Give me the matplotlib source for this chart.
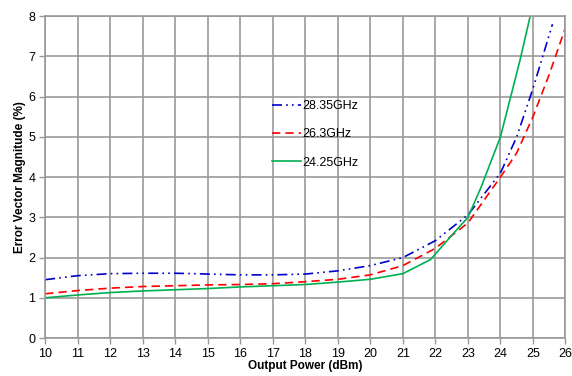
import matplotlib
matplotlib.use("Agg")
import matplotlib.pyplot as plt

plt.rcParams['font.family'] = ['Liberation Sans', 'DejaVu Sans']

# EVM vs output power, three carrier frequencies
x_2835 = [10, 11, 12, 13, 14, 15, 16, 17, 18, 19, 20, 21, 22, 23, 24, 24.5, 25, 25.3, 25.6]
evm_2835 = [1.45, 1.55, 1.6, 1.61, 1.61, 1.59, 1.57, 1.57, 1.59, 1.67, 1.8, 2.0, 2.42, 3.06, 4.1, 5.0, 6.2, 7.0, 7.8]

x_263 = [10, 11, 12, 13, 14, 15, 16, 17, 18, 19, 20, 21, 22, 23, 24, 24.5, 25, 25.5, 26]
evm_263 = [1.1, 1.18, 1.24, 1.28, 1.3, 1.32, 1.33, 1.35, 1.4, 1.46, 1.57, 1.8, 2.23, 2.86, 4.0, 4.6, 5.5, 6.55, 7.72]

x_2425 = [10, 11, 12, 13, 14, 15, 16, 17, 18, 19, 20, 21, 21.85, 22.5, 23, 23.4, 24, 24.6, 25]
evm_2425 = [1.0, 1.07, 1.13, 1.17, 1.2, 1.23, 1.27, 1.3, 1.33, 1.39, 1.46, 1.6, 1.95, 2.55, 3.0, 3.74, 5.0, 6.9, 8.3]

fig = plt.figure(figsize=(5.72, 3.76), dpi=100)
ax = fig.add_axes([0.079, 0.101, 0.9096, 0.856])

ax.plot(x_2835, evm_2835, color='#0000CC', lw=1.2, linestyle=(0, (6, 2.5, 1, 2.5, 1, 2.5)), label='28.35GHz')
ax.plot(x_263, evm_263, color='#FF0000', lw=1.2, linestyle=(0, (5, 3)), label='26.3GHz')
ax.plot(x_2425, evm_2425, color='#00B050', lw=1.2, label='24.25GHz')

ax.set_xlim(10, 26)
ax.set_ylim(0, 8)
ax.set_xticks(range(10, 27))
ax.set_yticks(range(0, 9))
ax.grid(True, color='#999999', lw=1.2)
ax.set_axisbelow(True)
for s in ax.spines.values():
    s.set_color('#999999')
    s.set_linewidth(1.2)
ax.tick_params(colors='#999999', labelcolor='black', labelsize=9, length=4, width=1.0, pad=3)

ax.set_xlabel('Output Power (dBm)', fontsize=8.5, fontweight='bold', labelpad=0)
ax.set_ylabel('Error Vector Magnitude (%)', fontsize=8.5, fontweight='bold', labelpad=2)

leg = ax.legend(loc='upper left', bbox_to_anchor=(0.427, 0.755), frameon=False, fontsize=9,
                handlelength=2.3, handletextpad=0.1, labelspacing=1.3, borderaxespad=0)

fig.savefig('out.png', dpi=100)
